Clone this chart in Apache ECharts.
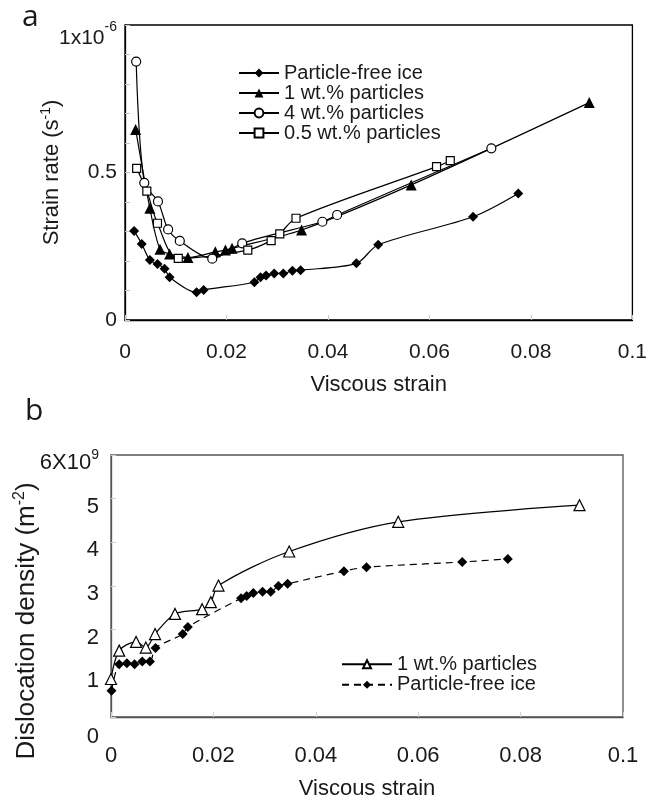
<!DOCTYPE html>
<html><head><meta charset="utf-8">
<script src="https://cdn.jsdelivr.net/npm/echarts/dist/echarts.min.js"></script>
<style>html,body{margin:0;padding:0;background:#fff}#c{width:650px;height:805px}</style>
</head><body><div id="c"></div>
<script>
// ---------- Panel a: strain rate (in units of 1e-6 s^-1) vs viscous strain ----------
const a_free_strain = [0.0018,0.0033,0.0049,0.0064,0.0078,0.0088,0.0141,0.0155,0.0255,0.0267,0.0278,0.0294,0.0312,0.0330,0.0346,0.0456,0.0499,0.0686,0.0775];
const a_free_rate   = [0.302,0.258,0.203,0.190,0.174,0.145,0.094,0.102,0.128,0.145,0.151,0.158,0.158,0.167,0.169,0.192,0.255,0.350,0.429];
const a_wt1_strain  = [0.0021,0.0049,0.0069,0.0088,0.0124,0.0178,0.0198,0.0211,0.0348,0.0564,0.0915];
const a_wt1_rate    = [0.646,0.379,0.240,0.224,0.212,0.231,0.237,0.243,0.305,0.458,0.737];
const a_wt4_strain  = [0.0022,0.0038,0.0065,0.0085,0.0108,0.0172,0.0231,0.0389,0.0418,0.0722];
const a_wt4_rate    = [0.876,0.465,0.402,0.307,0.268,0.208,0.260,0.333,0.356,0.582];
const a_wt05_strain = [0.0023,0.0043,0.0064,0.0105,0.0242,0.0288,0.0305,0.0337,0.0614,0.0641];
const a_wt05_rate   = [0.514,0.437,0.328,0.209,0.237,0.269,0.292,0.345,0.520,0.540];
const a_series_names = ['Particle-free ice','1 wt.% particles','4 wt.% particles','0.5 wt.% particles'];

// ---------- Panel b: dislocation density (in units of 1e9 m^-2) vs viscous strain ----------
const b_wt1_strain  = [0,0.0016,0.0049,0.0068,0.0086,0.0125,0.0178,0.0195,0.0210,0.0348,0.0561,0.0915];
const b_wt1_dens    = [0.87,1.52,1.72,1.59,1.90,2.36,2.47,2.63,3.01,3.79,4.47,4.85];
const b_free_strain = [0.0001,0.0016,0.0031,0.0046,0.0061,0.0076,0.0087,0.0140,0.0150,0.0254,0.0265,0.0278,0.0296,0.0312,0.0327,0.0345,0.0455,0.0499,0.0686,0.0775];
const b_free_dens   = [0.60,1.21,1.23,1.21,1.27,1.27,1.58,1.90,2.06,2.72,2.77,2.84,2.87,2.87,3.00,3.05,3.34,3.43,3.55,3.62];
const b_series_names = ['1 wt.% particles ','Particle-free ice '];

const FONT = '"Liberation Sans", Arial, sans-serif';
const TXT = '#1a1a1a';
const zip = (xs, ys) => xs.map((x, i) => [x, ys[i]]);
const near = (a, b) => Math.abs(a - b) < 1e-9;

function lineSeries(name, xi, xs, ys, symbol, size, hollow, dashed) {
  return {
    type: 'line', name, xAxisIndex: xi, yAxisIndex: xi,
    data: zip(xs, ys), smooth: 0.3, symbol, symbolSize: size,
    showAllSymbol: true,
    lineStyle: { color: '#000', width: 1.2, type: dashed ? [7, 5] : 'solid' },
    itemStyle: hollow ? { color: '#fff', borderColor: '#000', borderWidth: 1.2 } : { color: '#000', borderColor: '#000', borderWidth: 0 },
    emphasis: { disabled: true }, animation: false, z: 3
  };
}

const chart = echarts.init(document.getElementById('c'), null, { renderer: 'canvas' });
chart.setOption({
  backgroundColor: '#fff',
  animation: false,
  title: [
    { text: 'a', left: 17, top: -3, textStyle: { fontSize: 30, fontWeight: 'normal', color: TXT, fontFamily: '"Open Sans", sans-serif' } },
    { text: 'b', left: 20, top: 391, textStyle: { fontSize: 30, fontWeight: 'normal', color: TXT, fontFamily: '"Open Sans", sans-serif' } }
  ],
  grid: [
    { left: 125, top: 25, width: 510, height: 295, show: true, borderColor: '#000', borderWidth: 1.3, backgroundColor: 'transparent' },
    { left: 111, top: 455, width: 512, height: 262, show: true, borderColor: '#555', borderWidth: 1.3, backgroundColor: 'transparent' }
  ],
  legend: [
    { data: a_series_names, orient: 'vertical', left: 233, top: 58, itemWidth: 40, itemHeight: 11, itemGap: 0,
      textStyle: { fontSize: 20, lineHeight: 19.4, color: TXT, fontFamily: FONT }, selectedMode: false },
    { data: b_series_names, orient: 'vertical', left: 336, top: 649, itemWidth: 50, itemHeight: 10, itemGap: 0,
      formatter: n => n.trim(),
      textStyle: { fontSize: 20, lineHeight: 20.5, color: TXT, fontFamily: FONT }, selectedMode: false }
  ],
  xAxis: [
    { type: 'value', gridIndex: 0, min: 0, max: 0.1, interval: 0.02,
      axisLine: { lineStyle: { color: '#000', width: 1.3 } },
      axisTick: { inside: true, length: 5, lineStyle: { color: '#c8c8c8' } },
      splitLine: { show: false },
      axisLabel: { margin: 22, fontSize: 21, color: TXT, fontFamily: FONT },
      name: 'Viscous strain', nameLocation: 'middle', nameGap: 54, nameMoveOverlap: false,
      nameTextStyle: { fontSize: 22, color: TXT, fontFamily: FONT } },
    { type: 'value', gridIndex: 1, min: 0, max: 0.1, interval: 0.02,
      axisLine: { lineStyle: { color: '#555', width: 1.3 } },
      axisTick: { inside: true, length: 5, lineStyle: { color: '#d0d0d0' } },
      splitLine: { show: false },
      axisLabel: { margin: 28, fontSize: 22, color: TXT, fontFamily: FONT },
      name: 'Viscous strain', nameLocation: 'middle', nameGap: 61, nameMoveOverlap: false,
      nameTextStyle: { fontSize: 22, color: TXT, fontFamily: FONT } }
  ],
  yAxis: [
    { type: 'value', gridIndex: 0, min: 0, max: 1, interval: 0.1,
      axisLine: { show: true, lineStyle: { color: '#000', width: 1.3 } },
      axisTick: { inside: true, length: 5, lineStyle: { color: '#c8c8c8' } },
      splitLine: { show: false },
      axisLabel: { margin: 8, fontSize: 21, color: TXT, fontFamily: FONT,
        formatter: v => near(v, 0) ? '0' : near(v, 0.5) ? '0.5' : near(v, 1) ? '{b|1x10}{s|-6}' : '',
        rich: {
          b: { fontSize: 21, color: TXT, fontFamily: FONT, padding: [26, 0, 0, 0], verticalAlign: 'bottom' },
          s: { fontSize: 14, lineHeight: 14, color: TXT, fontFamily: FONT, padding: [0, 0, 14, 0], verticalAlign: 'bottom' }
        } },
      name: 'Strain rate (s{s|-1})', nameLocation: 'middle', nameGap: 60, nameMoveOverlap: false,
      nameTextStyle: { fontSize: 22, color: TXT, fontFamily: FONT,
        rich: { s: { fontSize: 14, color: TXT, fontFamily: FONT, padding: [0, 0, 12, 0], verticalAlign: 'bottom' } } } },
    { type: 'value', gridIndex: 1, min: 0, max: 6, interval: 1,
      axisLine: { show: true, lineStyle: { color: '#555', width: 1.3 } },
      axisTick: { inside: true, length: 5, lineStyle: { color: '#d0d0d0' } },
      splitLine: { show: false },
      axisLabel: { margin: 12, fontSize: 22, color: TXT, fontFamily: FONT, padding: [16, 0, 0, 0],
        formatter: v => near(v, 0) ? '{z|0}' : near(v, 6) ? '{b|6X10}{s|9}' : String(v),
        rich: {
          z: { fontSize: 22, color: TXT, fontFamily: FONT, padding: [24, 0, 0, 0] },
          b: { fontSize: 22, color: TXT, fontFamily: FONT, verticalAlign: 'bottom' },
          s: { fontSize: 14, lineHeight: 14, color: TXT, fontFamily: FONT, padding: [0, 0, 12, 0], verticalAlign: 'bottom' }
        } },
      name: 'Dislocation density (m{s|-2})', nameLocation: 'middle', nameGap: 70, nameMoveOverlap: false,
      nameTextStyle: { fontSize: 26, color: TXT, fontFamily: FONT, padding: [0, 70, 0, 0],
        rich: { s: { fontSize: 16, color: TXT, fontFamily: FONT, padding: [0, 0, 13, 0], verticalAlign: 'bottom' } } } }
  ],
  series: [
    lineSeries(a_series_names[0], 0, a_free_strain, a_free_rate, 'diamond', 10, false, false),
    lineSeries(a_series_names[1], 0, a_wt1_strain, a_wt1_rate, 'triangle', 11, false, false),
    lineSeries(a_series_names[2], 0, a_wt4_strain, a_wt4_rate, 'circle', 9, true, false),
    lineSeries(a_series_names[3], 0, a_wt05_strain, a_wt05_rate, 'rect', 8, true, false),
    lineSeries(b_series_names[0], 1, b_wt1_strain, b_wt1_dens, 'triangle', 11, true, false),
    lineSeries(b_series_names[1], 1, b_free_strain, b_free_dens, 'diamond', 10, false, true)
  ]
});
</script>
</body></html>
